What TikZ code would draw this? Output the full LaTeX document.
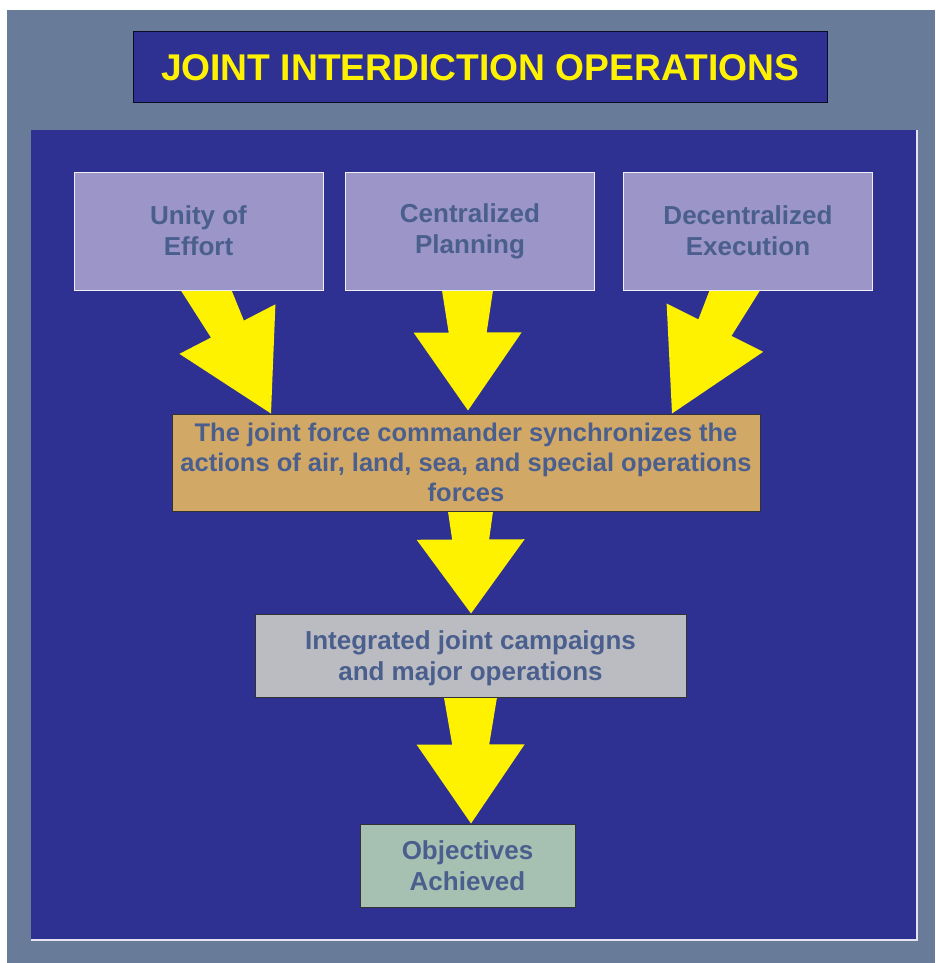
\documentclass[tikz,border=0pt]{standalone}
\usepackage{fontspec}
\setmainfont{Liberation Sans}
\usetikzlibrary{calc}
\pgfdeclarelayer{background}
\pgfdeclarelayer{foreground}
\pgfsetlayers{background,main,foreground}
\definecolor{ji_gray}{RGB}{104,124,153}
\definecolor{ji_blue}{RGB}{46,49,146}
\definecolor{ji_yellow}{RGB}{255,242,0}
\definecolor{ji_text}{RGB}{74,95,141}
\definecolor{ji_lavender}{RGB}{155,149,200}
\definecolor{ji_tan}{RGB}{210,168,103}
\definecolor{ji_silver}{RGB}{187,188,193}
\definecolor{ji_green}{RGB}{166,193,177}
\tikzstyle{box}=[draw=black!80, line width=1pt, inner sep=0pt, align=center, text=ji_text, font=\fontsize{26}{31}\selectfont\bfseries]
\tikzstyle{topbox}=[box, fill=ji_lavender, draw=white!85!ji_lavender, minimum width=249, minimum height=118]
% block arrow: start, tip, head length, shaft width at start, shaft width at neck
\newcommand{\fatarrow}[5]{%
  \fill[ji_yellow] let \p1=(#1), \p2=(#2), \n1={atan2(\y2-\y1,\x2-\x1)}, \n2={veclen(\x2-\x1,\y2-\y1)}, \n3={#4+(#4-#5)*14/(\n2-#3)} in
    [shift={(\p1)}, rotate=\n1]
    (-14,\n3/2) -- (\n2-#3,#5/2) -- (\n2-#3,54) -- (\n2,0) -- (\n2-#3,-54) -- (\n2-#3,-#5/2) -- (-14,-\n3/2) -- cycle;
}

\begin{document}
\begin{tikzpicture}[x=1pt, y=1pt]
  \useasboundingbox (0,0) rectangle (935,-963);
  \fill[white] (0,0) rectangle (935,-963);
  \fill[ji_gray] (7,-10) rectangle (935,-963);
  % panel
  \fill[ji_blue] (31,-130) rectangle (917,-940);
  \draw[white!75!ji_lavender, line width=1.5pt] (31,-940) -- (917,-940) -- (917,-130);

  \node[box, fill=ji_blue, draw=black!75!ji_blue, text=ji_yellow, minimum width=694, minimum height=71,
        font=\fontsize{37.2}{40}\selectfont\bfseries] (title) at (480,-67.5) {JOINT INTERDICTION OPERATIONS};

  \begin{pgfonlayer}{foreground}
    \node[topbox] (unity) at (198.5,-231) {Unity of\\Effort};
    \node[topbox] (central) at (470,-231) {Centralized\\Planning};
    \node[topbox] (decentral) at (748,-231) {Decentralized\\Execution};
    \node[box, fill=ji_tan, minimum width=588, minimum height=97, font=\fontsize{25.5}{30}\selectfont\bfseries] (sync) at (466,-462.5)
      {The joint force commander synchronizes the\\actions of air, land, sea, and special operations\\forces};
    \node[box, fill=ji_silver, minimum width=431, minimum height=83, text depth=0pt] (integ) at (470.5,-655.5) {Integrated joint campaigns\\and major operations};
    \node[box, fill=ji_green, minimum width=215, minimum height=83, text depth=0pt] (obj) at (467.5,-865.5) {Objectives\\Achieved};
  \end{pgfonlayer}

  % arrows
  \fatarrow{[xshift=9]unity.south}{[xshift=-195]sync.north}{95}{45}{37}
  \fatarrow{[xshift=-2.5]central.south}{[xshift=2, yshift=3]sync.north}{78}{51}{38}
  \fatarrow{[xshift=-14.5]decentral.south}{[xshift=206]sync.north}{96}{45}{37}
  \fatarrow{[xshift=4.5]sync.south}{[xshift=0.5]integ.north}{74}{45}{37}
  \fatarrow{integ.south}{[xshift=3.5]obj.north}{79}{53}{37}
\end{tikzpicture}
\end{document}
